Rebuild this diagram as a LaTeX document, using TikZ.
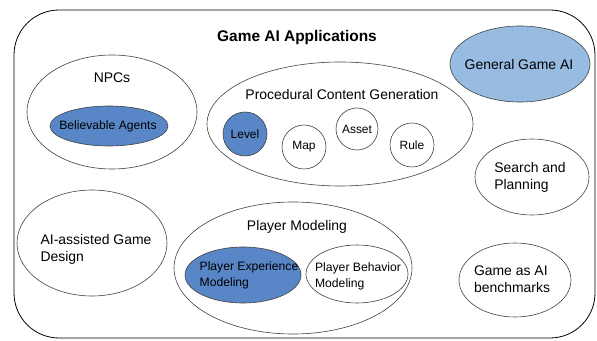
\documentclass[tikz,border=0pt]{standalone}
\usepackage{fontspec}
\setmainfont{Liberation Sans}
\usepackage{tikz}
\usetikzlibrary{shapes.geometric}
\definecolor{appblue}{RGB}{88,134,198}
\definecolor{genblue}{RGB}{152,187,226}

\begin{document}
\begin{tikzpicture}[line join=bevel, line width=0.6pt,
  area/.style={draw=black!75, ellipse, inner sep=0pt},
  item/.style={draw=black!75, circle, inner sep=0pt, font=\fontsize{12}{14}\selectfont},
  lbl/.style={inner sep=0pt, align=left, font=\fontsize{14}{17}\selectfont},
  sublbl/.style={inner sep=0pt, align=left, font=\fontsize{12.2}{16}\selectfont}]
\useasboundingbox (0bp,0bp) rectangle (597bp,341bp);
%%
\draw [rounded corners=45bp, line width=0.8pt] (14bp,3bp) rectangle (595bp,331bp);
\node (title) at (297bp,303bp) [font=\fontsize{15.5}{18}\selectfont\bfseries] {Game AI Applications};
%
\node (npc) at (112bp,229bp) [area, minimum width=170bp, minimum height=114bp] {};
  \node (npcl) at (112bp,263bp) [lbl] {NPCs};
  \node (agent) at (109bp,215bp) [area, fill=appblue, minimum width=118bp, minimum height=40bp] {};
  \node (agentl) at (108bp,215bp) [sublbl] {Believable Agents};
%
\node (pcg) at (340bp,217bp) [area, minimum width=266bp, minimum height=124bp] {};
  \node (pcgl) at (342bp,246bp) [lbl] {Procedural Content Generation};
  \node (level) at (245bp,207bp) [item, fill=appblue, minimum size=44bp] {Level};
  \node (map) at (304bp,194bp) [item, minimum size=44bp] {Map};
  \node (asset) at (357bp,212bp) [item, minimum size=42bp] {Asset};
  \node (rule) at (412bp,196bp) [item, minimum size=44bp] {Rule};
%
\node (gga) at (520bp,277bp) [area, fill=genblue, minimum width=140bp, minimum height=76bp] {};
  \node (ggal) at (519bp,276bp) [lbl] {General Game AI};
\node (search) at (532bp,164bp) [area, minimum width=114bp, minimum height=76bp] {};
  \node (searchl) at (530bp,164bp) [lbl] {Search and\\Planning};
\node (design) at (92bp,98bp) [area, minimum width=150bp, minimum height=106bp] {};
  \node (designl) at (96bp,92bp) [lbl] {AI-assisted Game\\Design};
%
\node (pm) at (293bp,73bp) [area, minimum width=238bp, minimum height=132bp] {};
  \node (pml) at (297bp,114bp) [lbl] {Player Modeling};
  \node (pxm) at (243bp,66bp) [area, fill=appblue, minimum width=116bp, minimum height=56bp] {};
  \node (pxml) at (249bp,66bp) [sublbl] {Player Experience\\Modeling};
  \node (pbm) at (357bp,67bp) [area, minimum width=102bp, minimum height=58bp] {};
  \node (pbml) at (358bp,65bp) [sublbl] {Player Behavior\\Modeling};
%
\node (bench) at (515bp,61bp) [area, minimum width=112bp, minimum height=74bp] {};
  \node (benchl) at (512bp,62bp) [lbl] {Game as AI\\benchmarks};
%
\end{tikzpicture}
\end{document}
